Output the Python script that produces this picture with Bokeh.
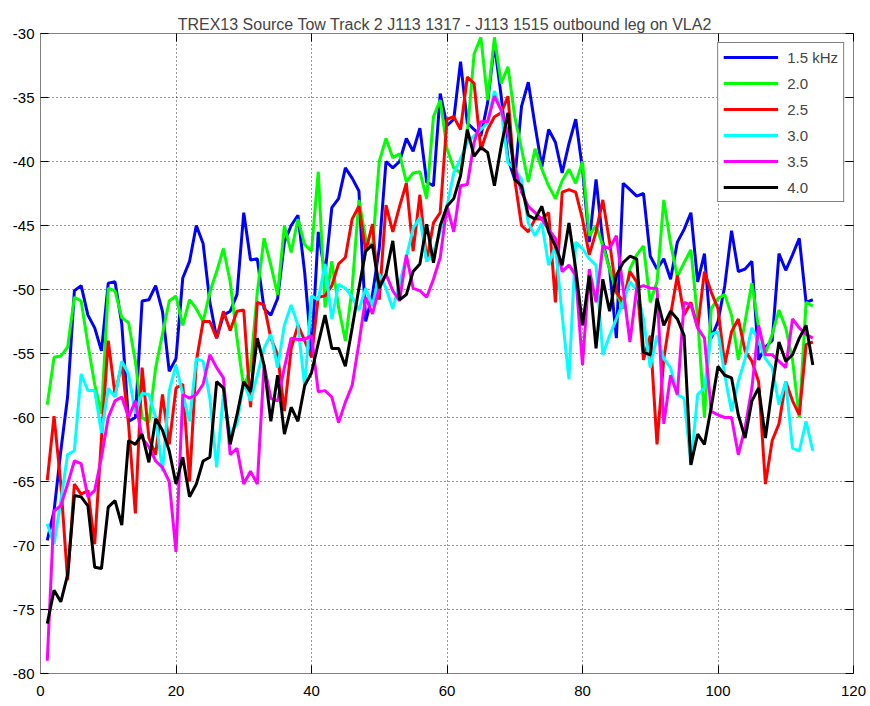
from bokeh.plotting import figure
from bokeh.models import FixedTicker, LinearAxis, Legend, LegendItem, Range1d, ColumnDataSource
from bokeh.embed import file_html
from bokeh.resources import INLINE

x_vals = list(range(1, 115))

blue_15 = [-69.6, -67.3, -62.6, -58.4, -50.1, -49.7, -52.0, -53.0, -54.8, -49.5,
           -49.4, -52.7, -60.3, -60.0, -50.9, -50.8, -49.7, -51.7, -56.4, -55.4,
           -49.1, -47.8, -45.0, -46.4, -51.0, -53.8, -52.0, -51.7, -50.4, -44.0,
           -47.7, -47.6, -51.5, -52.0, -50.7, -46.3, -45.0, -44.2, -48.7, -55.0,
           -45.5, -48.8, -43.6, -42.9, -40.5, -41.3, -42.3, -52.5, -50.4, -46.8,
           -40.0, -40.5, -40.0, -38.2, -39.2, -37.4, -41.6, -41.9, -34.7, -37.2,
           -36.7, -32.2, -37.0, -37.5, -38.0, -35.4, -30.8, -34.9, -39.8, -41.4,
           -35.7, -33.8, -37.2, -40.4, -37.5, -38.5, -40.9, -38.6, -36.7, -40.6,
           -46.3, -41.4, -46.3, -48.4, -53.8, -41.7, -42.2, -42.7, -42.5, -47.4,
           -48.4, -47.6, -49.2, -46.3, -45.3, -44.0, -49.4, -47.2, -53.8, -52.5,
           -49.7, -45.4, -48.6, -48.4, -47.8, -55.5, -54.5, -54.0, -47.2, -48.5,
           -47.3, -46.0, -51.0, -50.8]

green_20 = [-59.0, -55.3, -55.2, -54.5, -50.6, -50.9, -54.3, -57.4, -59.7, -49.9,
            -50.1, -52.2, -52.6, -55.6, -60.0, -60.4, -56.1, -53.5, -50.9, -50.5,
            -52.8, -50.8, -51.5, -52.5, -50.2, -48.6, -46.8, -49.4, -53.8, -57.7,
            -56.1, -50.2, -46.0, -48.1, -50.4, -45.0, -47.1, -44.5, -46.5, -47.0,
            -40.8, -51.4, -47.8, -51.4, -54.0, -49.9, -43.0, -46.0, -46.8, -40.0,
            -38.2, -39.7, -39.4, -41.6, -40.9, -40.8, -42.9, -36.5, -35.2, -39.0,
            -40.5, -40.9, -37.8, -31.6, -30.3, -35.2, -30.3, -33.9, -32.6, -36.5,
            -39.0, -41.6, -39.0, -40.6, -41.9, -42.9, -41.5, -40.6, -41.7, -40.0,
            -45.8, -45.0, -46.6, -48.4, -50.2, -51.5, -48.4, -47.3, -46.6, -51.0,
            -49.4, -43.0, -46.4, -49.0, -47.9, -46.9, -52.3, -60.0, -51.5, -50.7,
            -50.4, -52.0, -55.5, -52.5, -49.5, -53.0, -55.0, -53.5, -51.6, -53.0,
            -55.5, -60.0, -51.0, -51.3]

red_25 = [-64.9, -59.9, -65.2, -72.7, -65.2, -66.0, -65.7, -69.9, -61.6, -54.0,
          -58.2, -55.8, -60.5, -67.5, -56.1, -61.6, -62.9, -58.2, -62.1, -57.7,
          -57.4, -65.0, -55.6, -52.5, -52.5, -53.8, -51.7, -53.2, -51.7, -51.6,
          -59.2, -51.0, -51.2, -53.8, -55.1, -59.5, -54.6, -52.8, -54.0, -55.3,
          -50.6, -50.5, -49.7, -48.0, -47.5, -44.5, -43.5, -47.0, -44.9, -50.8,
          -43.4, -45.5, -43.5, -41.7, -47.0, -42.6, -47.8, -44.8, -44.0, -36.7,
          -36.5, -37.5, -33.4, -33.9, -39.1, -37.5, -36.5, -36.2, -34.9, -41.4,
          -45.0, -45.5, -44.5, -44.5, -44.0, -51.0, -42.4, -42.2, -42.4, -44.5,
          -47.3, -45.5, -43.0, -46.3, -50.2, -51.0, -48.6, -49.4, -55.5, -53.6,
          -62.1, -55.4, -52.0, -48.9, -52.0, -51.0, -53.0, -48.6, -50.2, -51.5,
          -55.9, -53.3, -52.3, -54.8, -55.6, -57.2, -65.2, -61.8, -60.5, -57.2,
          -58.7, -59.8, -54.3, -54.1]

cyan_30 = [-68.3, -69.9, -66.5, -62.9, -62.6, -56.6, -57.9, -57.9, -61.2, -57.7,
           -58.4, -55.6, -56.6, -59.7, -58.1, -58.2, -60.0, -64.2, -57.9, -55.9,
           -58.2, -60.3, -55.4, -55.6, -58.5, -63.9, -58.2, -61.3, -60.5, -57.2,
           -58.7, -56.7, -54.6, -53.5, -56.1, -52.8, -51.2, -52.8, -57.6, -50.5,
           -50.8, -48.0, -52.3, -49.6, -49.9, -50.6, -51.6, -49.9, -51.3, -48.8,
           -49.9, -51.5, -49.5, -47.5, -45.2, -44.4, -47.8, -47.1, -45.5, -43.5,
           -40.9, -39.8, -38.5, -38.0, -37.5, -37.0, -34.5, -36.0, -40.1, -40.6,
           -41.4, -44.8, -45.8, -44.8, -48.1, -46.6, -52.0, -57.0, -46.3, -46.8,
           -47.6, -48.1, -55.1, -53.6, -52.3, -51.0, -49.4, -50.0, -52.3, -56.1,
           -53.6, -55.4, -56.1, -58.2, -58.5, -63.7, -58.2, -57.7, -53.5, -53.3,
           -56.7, -59.5, -57.2, -55.4, -53.0, -54.1, -55.4, -56.1, -59.0, -57.2,
           -62.4, -62.6, -60.3, -62.6]

magenta_35 = [-79.0, -67.3, -66.9, -65.2, -63.4, -63.6, -66.2, -65.7, -63.1, -60.0,
              -58.7, -58.4, -60.0, -58.7, -61.6, -62.3, -63.4, -63.9, -65.0, -70.5,
              -58.2, -58.5, -58.2, -57.4, -55.1, -56.1, -56.9, -62.9, -62.4, -65.2,
              -64.2, -65.2, -55.9, -58.5, -58.7, -56.1, -53.8, -53.9, -53.9, -53.6,
              -58.0, -57.9, -58.4, -60.4, -58.8, -57.5, -54.2, -50.6, -51.9, -49.9,
              -48.8, -50.1, -50.9, -47.3, -49.9, -50.1, -50.6, -49.2, -47.5, -43.5,
              -45.5, -41.9, -41.8, -38.5, -36.9, -36.9, -34.9, -36.0, -37.8, -40.4,
              -42.4, -43.5, -44.0, -44.5, -45.3, -46.0, -48.6, -48.1, -48.9, -55.9,
              -48.4, -51.0, -46.6, -46.8, -45.8, -49.9, -54.1, -49.9, -49.7, -49.9,
              -49.9, -60.5, -56.7, -58.2, -51.0, -51.2, -53.0, -53.8, -59.5, -59.8,
              -60.0, -60.0, -62.9, -60.8, -57.7, -52.8, -55.1, -55.1, -55.6, -56.1,
              -52.3, -53.0, -53.5, -53.8]

black_40 = [-76.1, -73.5, -74.4, -72.3, -66.1, -66.2, -66.9, -71.7, -71.8, -67.0,
            -66.5, -68.4, -61.8, -62.1, -61.3, -63.5, -60.1, -61.0, -62.6, -65.2,
            -63.1, -66.2, -65.2, -63.4, -63.1, -57.2, -57.7, -62.1, -59.8, -57.2,
            -58.0, -53.8, -55.9, -60.3, -56.7, -61.3, -59.2, -60.3, -57.5, -56.5,
            -54.2, -52.0, -54.6, -54.6, -56.0, -53.0, -49.9, -47.0, -46.5, -49.9,
            -48.8, -46.2, -50.8, -50.4, -48.6, -48.0, -44.9, -47.9, -45.0, -43.5,
            -42.9, -41.1, -37.5, -39.6, -38.9, -39.3, -41.9, -38.8, -36.2, -41.4,
            -41.9, -44.2, -44.5, -43.5, -45.5, -46.6, -48.1, -44.8, -48.4, -52.8,
            -48.9, -54.6, -49.2, -51.7, -48.9, -47.9, -47.4, -47.6, -54.9, -55.1,
            -50.7, -52.8, -51.7, -52.3, -53.6, -63.7, -61.3, -62.1, -59.2, -56.0,
            -56.7, -56.9, -59.8, -61.6, -58.7, -57.7, -61.6, -57.7, -54.1, -55.6,
            -55.1, -53.8, -52.8, -55.9]

series_labels = ["1.5 kHz", "2.0", "2.5", "3.0", "3.5", "4.0"]
series_values = [blue_15, green_20, red_25, cyan_30, magenta_35, black_40]
series_colors = ["#0000ff", "#00ff00", "#ff0000", "#00ffff", "#ff00ff", "#000000"]

x_ticks = [0, 20, 40, 60, 80, 100, 120]
y_ticks = [-80, -75, -70, -65, -60, -55, -50, -45, -40, -35, -30]

FONT = "Liberation Sans"
FRAME = "#808080"

p = figure(width=870, height=706, x_range=Range1d(0, 120), y_range=Range1d(-80, -30),
           output_backend="svg", toolbar_location=None,
           min_border_left=40, min_border_right=17, min_border_top=33, min_border_bottom=33,
           title="TREX13 Source Tow Track 2 J113 1317 - J113 1515 outbound leg  on VLA2")
p.title.align = "center"
p.title.text_font = FONT
p.title.text_font_size = "16px"
p.title.text_font_style = "normal"
p.title.standoff = 2
p.background_fill_color = "white"
p.border_fill_color = "white"
p.outline_line_color = FRAME
p.outline_line_width = 1

p.xaxis[0].major_label_standoff = 12
p.yaxis[0].major_label_standoff = 6
for ax, ticks in ((p.xaxis[0], x_ticks), (p.yaxis[0], y_ticks)):
    ax.ticker = FixedTicker(ticks=ticks)
    ax.major_label_overrides = {t: str(t) for t in ticks}
    ax.major_tick_in = 8
    ax.major_tick_out = 0
    ax.minor_tick_line_color = None
    ax.axis_line_color = FRAME
    ax.major_tick_line_color = "black"
    ax.major_label_text_font = FONT
    ax.major_label_text_font_size = "15px"
    ax.major_label_text_color = "black"

for loc, ticks in (("above", x_ticks), ("right", y_ticks)):
    ax = LinearAxis(ticker=FixedTicker(ticks=ticks), major_tick_in=8, major_tick_out=0,
                    minor_tick_line_color=None, axis_line_color=None,
                    major_tick_line_color="black", major_label_text_font_size="1px",
                    major_label_text_color=None, major_label_standoff=0)
    p.add_layout(ax, loc)

p.xgrid.ticker = FixedTicker(ticks=x_ticks)
p.ygrid.ticker = FixedTicker(ticks=y_ticks)
for g in (p.xgrid[0], p.ygrid[0]):
    g.grid_line_color = "black"
    g.grid_line_dash = "1 3"
    g.grid_line_alpha = 0.8
    g.grid_line_width = 1

items = []
for lab, vals, col in zip(series_labels, series_values, series_colors):
    src = ColumnDataSource(dict(x=x_vals, y=vals))
    r = p.line("x", "y", source=src, line_color=col, line_width=3)
    items.append(LegendItem(label=lab, renderers=[r]))

legend = Legend(items=items, location="top_right", margin=9, padding=5,
                spacing=8, glyph_width=55, glyph_height=18, label_height=18,
                label_standoff=9, label_text_font=FONT, label_text_font_size="15px",
                border_line_color="black", border_line_width=1,
                background_fill_color="white", background_fill_alpha=1)
p.add_layout(legend)

open("out.html", "w").write(file_html(p, INLINE))
